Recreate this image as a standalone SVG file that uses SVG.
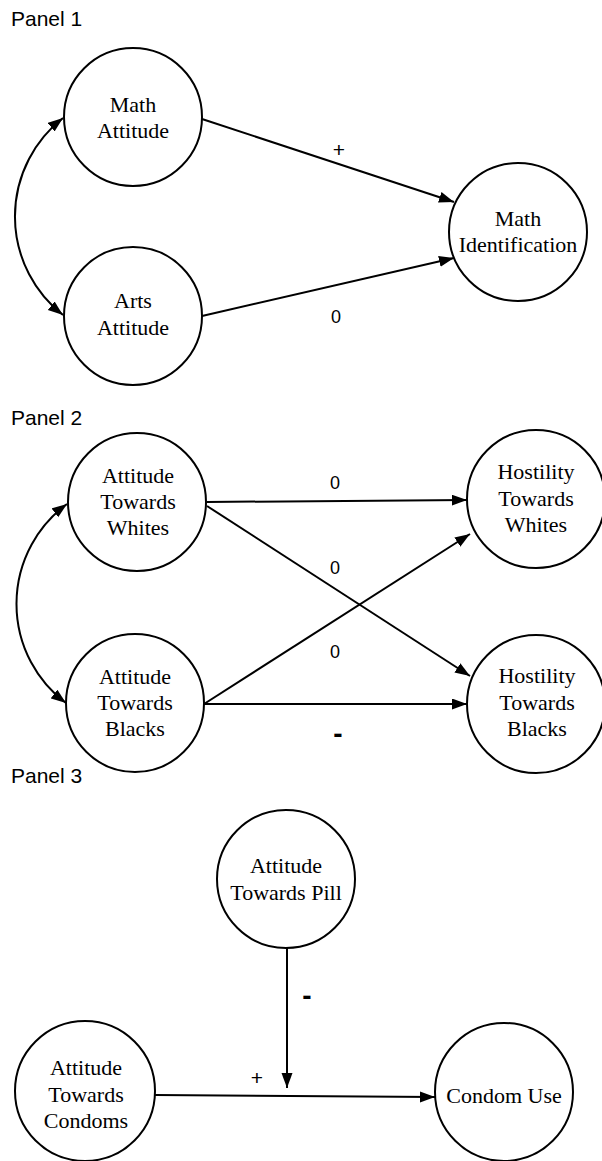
<svg xmlns="http://www.w3.org/2000/svg" width="602" height="1161" viewBox="0 0 602 1161">
  <style>
    .node { fill: #fff; stroke: #000; stroke-width: 2; }
    .lbl { font-family: "Liberation Serif", "Times New Roman", serif; font-size: 22px; fill: #000; text-anchor: middle; }
    .panel { font-family: "Liberation Sans", Arial, sans-serif; font-size: 21px; fill: #000; }
    .coef { font-family: "Liberation Sans", Arial, sans-serif; font-size: 18px; fill: #000; text-anchor: middle; }
    .pos { font-family: "Liberation Sans", Arial, sans-serif; font-size: 21px; fill: #000; text-anchor: middle; }
    .neg { font-family: "Liberation Sans", Arial, sans-serif; font-size: 28px; font-weight: bold; fill: #000; text-anchor: middle; }
    .edge { fill: none; stroke: #000; stroke-width: 2; marker-end: url(#arrow); }
    .cov { fill: none; stroke: #000; stroke-width: 2; marker-start: url(#arrow); marker-end: url(#arrow); }
  </style>
  <defs>
    <marker id="arrow" markerUnits="userSpaceOnUse" markerWidth="16" markerHeight="12" refX="15" refY="5.5" orient="auto-start-reverse">
      <path d="M0,0 L15,5.5 L0,11 z" fill="#000"/>
    </marker>
  </defs>
  <rect width="602" height="1161" fill="#fff"/>

  <!-- panel titles -->
  <text class="panel" x="11" y="26">Panel 1</text>
  <text class="panel" x="11" y="425">Panel 2</text>
  <text class="panel" x="11" y="783">Panel 3</text>

  <!-- connectors -->
  <g id="connectors">
    <!-- panel 1 -->
    <path class="cov" d="M63,118 A125,125 0 0,0 63,315"/>
    <line class="edge" x1="202" y1="119" x2="454" y2="202"/>
    <line class="edge" x1="202" y1="316" x2="454" y2="258"/>
    <!-- panel 2 -->
    <path class="cov" d="M67,504 A124,124 0 0,0 66,703"/>
    <line class="edge" x1="207" y1="502" x2="467" y2="500"/>
    <line class="edge" x1="207" y1="506" x2="470" y2="676"/>
    <line class="edge" x1="204" y1="704" x2="470" y2="534"/>
    <line class="edge" x1="204" y1="704" x2="467" y2="704"/>
    <!-- panel 3 -->
    <line class="edge" x1="287" y1="947" x2="287" y2="1088"/>
    <line class="edge" x1="155" y1="1095" x2="435" y2="1097"/>
  </g>

  <!-- path coefficients -->
  <g id="coefficients">
    <text class="pos" x="339" y="157">+</text>
    <text class="coef" x="336" y="323">0</text>
    <text class="coef" x="335" y="489">0</text>
    <text class="coef" x="335" y="574">0</text>
    <text class="coef" x="335" y="658">0</text>
    <text class="neg" x="338" y="743">-</text>
    <text class="neg" x="307" y="1005">-</text>
    <text class="pos" x="257" y="1085">+</text>
  </g>

  <!-- panel 1 nodes -->
  <g id="math-attitude">
    <circle class="node" cx="133" cy="117" r="69"/>
    <text class="lbl" x="133" y="112">Math</text>
    <text class="lbl" x="133" y="138">Attitude</text>
  </g>
  <g id="arts-attitude">
    <circle class="node" cx="133" cy="316" r="69"/>
    <text class="lbl" x="133" y="308">Arts</text>
    <text class="lbl" x="133" y="335">Attitude</text>
  </g>
  <g id="math-identification">
    <circle class="node" cx="518" cy="232" r="69"/>
    <text class="lbl" x="518" y="226">Math</text>
    <text class="lbl" x="518" y="252">Identification</text>
  </g>

  <!-- panel 2 nodes -->
  <g id="attitude-whites">
    <circle class="node" cx="137" cy="502" r="69"/>
    <text class="lbl" x="138" y="483">Attitude</text>
    <text class="lbl" x="138" y="509">Towards</text>
    <text class="lbl" x="138" y="535">Whites</text>
  </g>
  <g id="attitude-blacks">
    <circle class="node" cx="135" cy="703" r="69"/>
    <text class="lbl" x="135" y="684">Attitude</text>
    <text class="lbl" x="135" y="710">Towards</text>
    <text class="lbl" x="135" y="736">Blacks</text>
  </g>
  <g id="hostility-whites">
    <circle class="node" cx="536" cy="499" r="69"/>
    <text class="lbl" x="536" y="479">Hostility</text>
    <text class="lbl" x="536" y="506">Towards</text>
    <text class="lbl" x="536" y="532">Whites</text>
  </g>
  <g id="hostility-blacks">
    <circle class="node" cx="536" cy="704" r="69"/>
    <text class="lbl" x="537" y="683">Hostility</text>
    <text class="lbl" x="537" y="710">Towards</text>
    <text class="lbl" x="537" y="736">Blacks</text>
  </g>

  <!-- panel 3 nodes -->
  <g id="attitude-pill">
    <circle class="node" cx="286" cy="879" r="69"/>
    <text class="lbl" x="286" y="873">Attitude</text>
    <text class="lbl" x="286" y="900">Towards Pill</text>
  </g>
  <g id="attitude-condoms">
    <circle class="node" cx="85" cy="1091" r="70"/>
    <text class="lbl" x="86" y="1075">Attitude</text>
    <text class="lbl" x="86" y="1102">Towards</text>
    <text class="lbl" x="86" y="1128">Condoms</text>
  </g>
  <g id="condom-use">
    <circle class="node" cx="504" cy="1092" r="69"/>
    <text class="lbl" x="504" y="1103">Condom Use</text>
  </g>
</svg>
